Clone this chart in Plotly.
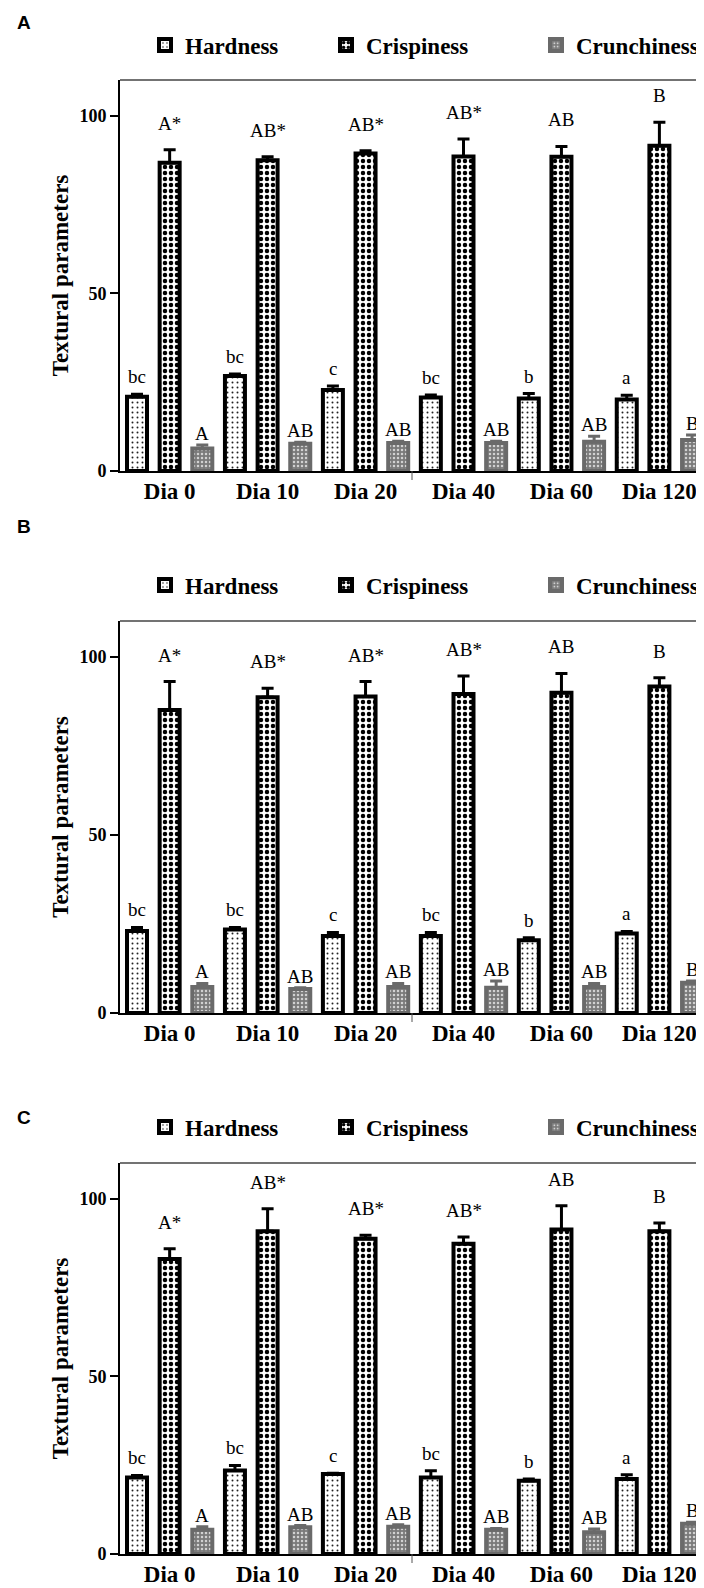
import plotly.graph_objects as go

# ---------------- data ----------------
days = ["Dia 0", "Dia 10", "Dia 20", "Dia 40", "Dia 60", "Dia 120"]
series = ["Hardness", "Crispiness", "Crunchiness"]

# Panel A
hard_A = [20.9, 26.7, 22.8, 20.7, 20.4, 20.1]
hard_A_sd = [0.7, 0.6, 1.1, 0.7, 1.4, 1.2]
crisp_A = [86.7, 87.4, 89.3, 88.5, 88.4, 91.5]
crisp_A_sd = [3.7, 1.0, 0.8, 4.9, 2.9, 6.6]
crunch_A = [6.3, 7.7, 7.9, 7.9, 8.2, 8.7]
crunch_A_sd = [1.0, 0.4, 0.5, 0.5, 1.6, 1.4]

# Panel B
hard_B = [23.0, 23.4, 21.6, 21.6, 20.4, 22.3]
hard_B_sd = [1.0, 0.6, 1.0, 1.0, 0.7, 0.6]
crisp_B = [85.0, 88.6, 88.8, 89.5, 89.9, 91.6]
crisp_B_sd = [8.0, 2.5, 4.2, 5.1, 5.4, 2.5]
crunch_B = [7.3, 6.7, 7.3, 7.1, 7.3, 8.5]
crunch_B_sd = [1.0, 0.4, 1.0, 1.9, 1.0, 0.5]

# Panel C
hard_C = [21.5, 23.5, 22.5, 21.5, 20.6, 21.1]
hard_C_sd = [0.6, 1.4, 0.2, 1.9, 0.5, 1.2]
crisp_C = [83.0, 90.8, 88.7, 87.3, 91.3, 90.8]
crisp_C_sd = [2.9, 6.3, 1.0, 1.9, 6.7, 2.3]
crunch_C = [6.8, 7.5, 7.7, 6.8, 6.1, 8.5]
crunch_C_sd = [0.9, 0.5, 0.5, 0.4, 0.9, 0.4]

letters_hard = ["bc", "bc", "c", "bc", "b", "a"]
letters_crisp = ["A*", "AB*", "AB*", "AB*", "AB", "B"]
letters_crunch = ["A", "AB", "AB", "AB", "AB", "B"]

y_title = "Textural parameters"

# ---------------- layout constants ----------------
# The page body keeps its default 8px margin, so the figure starts 8px in
# from the window's top-left corner; page pixel targets are converted below.
PAGE_W, PAGE_H = 704, 1588
OFF = 8
W, H = PAGE_W - OFF, PAGE_H - OFF
SERIF = "Liberation Serif, Times New Roman, serif"
SANS = "Liberation Sans, Arial, sans-serif"


def fx(px):  # page x pixel -> paper fraction
    return (px - OFF) / W


def fy(py):  # page y pixel -> paper fraction
    return 1 - (py - OFF) / H


panels = [
    dict(name="A", data=[(hard_A, hard_A_sd), (crisp_A, crisp_A_sd), (crunch_A, crunch_A_sd)],
         top=80, bottom=471, legend_y=45, label_y=22),
    dict(name="B", data=[(hard_B, hard_B_sd), (crisp_B, crisp_B_sd), (crunch_B, crunch_B_sd)],
         top=621, bottom=1013, legend_y=585, label_y=526),
    dict(name="C", data=[(hard_C, hard_C_sd), (crisp_C, crisp_C_sd), (crunch_C, crunch_C_sd)],
         top=1163, bottom=1554, legend_y=1127, label_y=1117),
]

styles = [
    dict(color="white", line="black", err="black",
         pattern=dict(shape=".", fgcolor="#222222", bgcolor="white", size=5, solidity=0.12, fillmode="replace")),
    dict(color="white", line="black", err="black",
         pattern=dict(shape=".", fgcolor="black", bgcolor="white", size=6, solidity=0.43, fillmode="replace")),
    dict(color="#808080", line="#6a6a6a", err="#6a6a6a",
         pattern=dict(shape=".", fgcolor="#d2d2d2", bgcolor="#7a7a7a", size=4, solidity=0.3, fillmode="replace")),
]
letters = [letters_hard, letters_crisp, letters_crunch]
letter_shift = [5, 14, -1]
legend_text_x = [185, 366, 576]

ax_left_px = 120
ax_right_px = PAGE_W
first_bar_px = 137
pitch_px = 32.65
bar_w = 20 / pitch_px
x_range = [-(first_bar_px - ax_left_px) / pitch_px, (ax_right_px - first_bar_px) / pitch_px]

fig = go.Figure()
annotations = []
shapes = []
layout_extra = {}

for p_i, p in enumerate(panels):
    sfx = "" if p_i == 0 else str(p_i + 1)
    xa, ya = "x" + sfx, "y" + sfx
    for k, (vals, sds) in enumerate(p["data"]):
        st = styles[k]
        xs = [3 * j + k for j in range(len(days))]
        leg_idx = p_i * 3 + k
        leg_name = "legend" if leg_idx == 0 else "legend%d" % (leg_idx + 1)
        fig.add_trace(go.Bar(
            x=xs, y=vals, width=bar_w, name=series[k],
            xaxis=xa, yaxis=ya, legend=leg_name,
            marker=dict(color=st["color"], line=dict(color=st["line"], width=4),
                        pattern=st["pattern"]),
            error_y=dict(type="data", symmetric=False, array=sds, arrayminus=[0] * len(sds),
                         color=st["err"], thickness=3, width=6),
            showlegend=True,
        ))
        layout_extra[leg_name] = dict(
            x=fx(legend_text_x[k] - 40), xanchor="left",
            y=fy(p["legend_y"]), yanchor="middle",
            orientation="h", bgcolor="rgba(0,0,0,0)", borderwidth=0,
            font=dict(family=SERIF, size=23, color="black", weight="bold"),
        )
        for j in range(len(days)):
            annotations.append(dict(
                x=xs[j], y=vals[j] + sds[j], xref=xa, yref=ya, text=letters[k][j],
                showarrow=False, yanchor="bottom", yshift=letter_shift[k],
                font=dict(family=SERIF, size=19, color="black")))

    dom_y = [fy(p["bottom"]), fy(p["top"])]
    layout_extra["xaxis" + sfx] = dict(
        domain=[fx(ax_left_px), 1], range=x_range, anchor=ya, automargin=False,
        tickvals=[3 * j + 1 for j in range(len(days))], ticktext=days,
        ticks="", showline=True, linecolor="black", linewidth=1.5,
        showgrid=False, zeroline=False, ticklabelstandoff=-1,
        tickfont=dict(family=SERIF, size=23, color="black", weight="bold"))
    layout_extra["yaxis" + sfx] = dict(
        domain=dom_y, range=[0, 110], anchor=xa, automargin=False,
        tickvals=[0, 50, 100], ticks="outside", ticklen=8, tickwidth=1.5, tickcolor="black",
        showline=True, linecolor="black", linewidth=2, showgrid=False, zeroline=False,
        tickfont=dict(family=SERIF, size=18, color="black", weight="bold"),
        title=dict(text=y_title, standoff=4,
                   font=dict(family=SERIF, size=23, color="black", weight="bold")))
    shapes.append(dict(type="line", xref=xa + " domain", yref=ya + " domain",
                       x0=0, x1=1, y0=1, y1=1, line=dict(color="#444444", width=1.5)))
    shapes.append(dict(type="line", xref=xa + " domain", yref=ya + " domain",
                       x0=0.5, x1=0.5, ysizemode="pixel", yanchor=0, y0=0, y1=-9,
                       line=dict(color="#555555", width=1)))
    annotations.append(dict(x=fx(24), y=fy(p["label_y"]), xref="paper", yref="paper",
                            text=p["name"], showarrow=False, xanchor="center", yanchor="middle",
                            font=dict(family=SANS, size=19, color="black", weight="bold")))

fig.update_layout(
    width=W, height=H, margin=dict(l=0, r=0, t=0, b=0, autoexpand=False),
    paper_bgcolor="white", plot_bgcolor="white",
    barmode="overlay", annotations=annotations, shapes=shapes,
    **layout_extra,
)

fig.write_html("out.html")
